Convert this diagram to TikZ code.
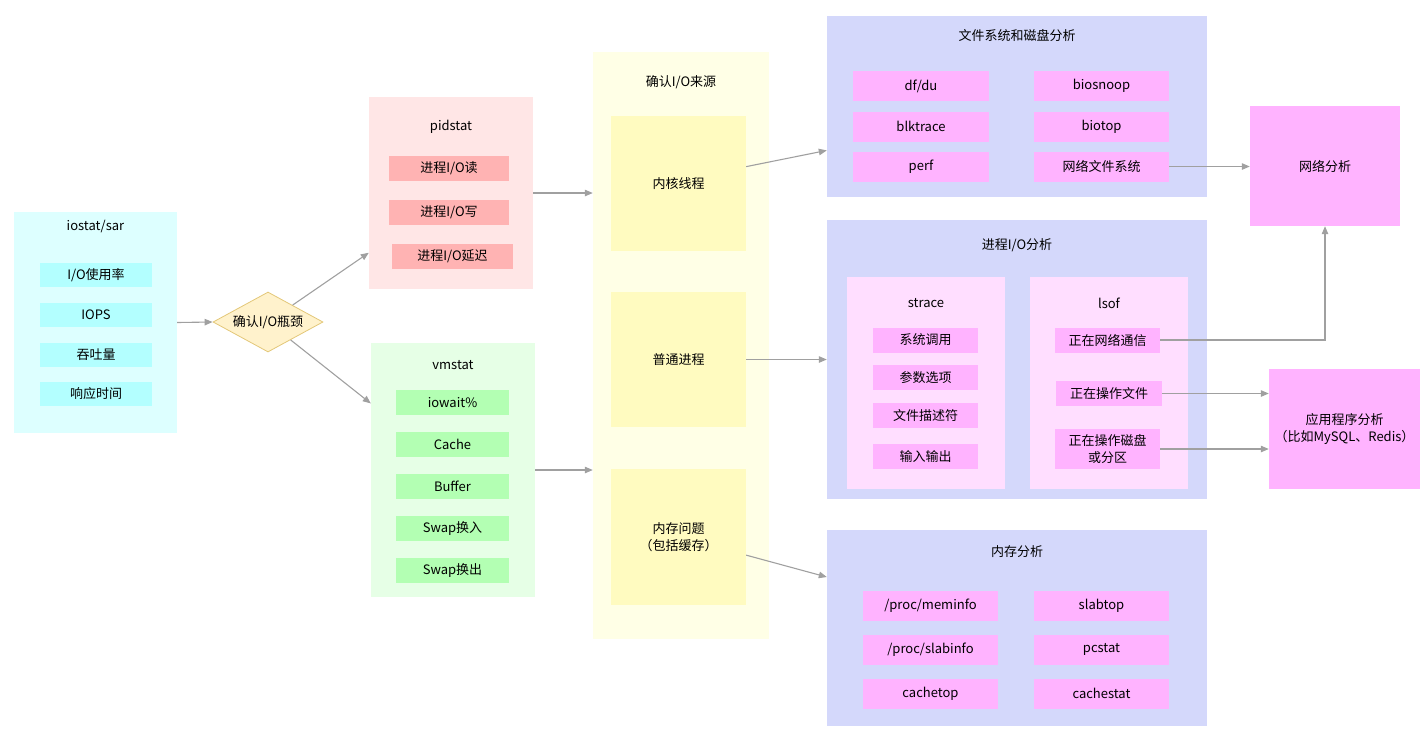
\documentclass[tikz,border=0pt]{standalone}
\usepackage{fontspec}
\setmainfont{Noto Sans CJK SC}
\usetikzlibrary{shapes.geometric,arrows.meta}
\definecolor{iobg}{HTML}{DDFFFF}
\definecolor{iofill}{HTML}{B3FFFF}
\definecolor{pidbg}{HTML}{FFE6E6}
\definecolor{pidfill}{HTML}{FFB3B3}
\definecolor{vmbg}{HTML}{E6FFE6}
\definecolor{vmfill}{HTML}{B3FFB3}
\definecolor{srcbg}{HTML}{FFFFE6}
\definecolor{srcfill}{HTML}{FFFBC0}
\definecolor{diafill}{HTML}{FFF2CC}
\definecolor{diaedge}{HTML}{E3C778}
\definecolor{anabg}{HTML}{D4D8FB}
\definecolor{subbg}{HTML}{FFDEFF}
\definecolor{toolfill}{HTML}{FFB3FF}
\definecolor{arrgray}{HTML}{A0A0A0}
\tikzset{
  box/.style={rectangle,inner sep=0pt,align=center},
  ioitem/.style={box,fill=iofill,minimum width=112,minimum height=24},
  piditem/.style={box,fill=pidfill,minimum width=120,minimum height=25},
  vmitem/.style={box,fill=vmfill,minimum width=113,minimum height=25},
  srcitem/.style={box,fill=srcfill,minimum width=135,minimum height=135},
  tool/.style={box,fill=toolfill,minimum width=135,minimum height=30},
  sttool/.style={box,fill=toolfill,minimum width=105,minimum height=25},
  arr/.style={draw=arrgray,line width=1.1pt,-{Triangle[length=8pt,width=6.5pt]}}
}
\begin{document}
\begin{tikzpicture}[x=1pt,y=-1pt,every node/.style={font=\fontsize{13}{17}\selectfont}]
\useasboundingbox (0,0) rectangle (1428,748);

\node[box,fill=iobg,minimum width=163,minimum height=221] (io) at (95.5,322.5) {};
\node (iot) at (95.5,226) {iostat/sar};
\node[ioitem] (io1) at (96,275) {I/O使用率};
\node[ioitem] (io2) at (96,315) {IOPS};
\node[ioitem] (io3) at (96,355) {吞吐量};
\node[ioitem] (io4) at (96,394) {响应时间};

\node[diamond,draw=diaedge,line width=0.8pt,fill=diafill,aspect=1.83,inner sep=0pt,minimum width=110,minimum height=60] (dia) at (268,322) {确认I/O瓶颈};

\node[box,fill=pidbg,minimum width=164,minimum height=192] (pid) at (451,193) {};
\node (pidt) at (451,127) {pidstat};
\node[piditem] (pid1) at (449,168.5) {进程I/O读};
\node[piditem] (pid2) at (449,212.5) {进程I/O写};
\node[piditem,minimum width=121] (pid3) at (452.5,256.5) {进程I/O延迟};

\node[box,fill=vmbg,minimum width=164,minimum height=254] (vm) at (453,470) {};
\node (vmt) at (453,365) {vmstat};
\node[vmitem] (vm1) at (452.5,402.5) {iowait\%};
\node[vmitem] (vm2) at (452.5,444.5) {Cache};
\node[vmitem] (vm3) at (452.5,486.5) {Buffer};
\node[vmitem] (vm4) at (452.5,528.5) {Swap换入};
\node[vmitem] (vm5) at (452.5,570.5) {Swap换出};

\node[box,fill=srcbg,minimum width=176,minimum height=587] (src) at (681,345.5) {};
\node (srct) at (681,82) {确认I/O来源};
\node[srcitem] (src1) at (678.5,183.5) {内核线程};
\node[srcitem] (src2) at (678.5,359.5) {普通进程};
\node[srcitem,minimum height=136] (src3) at (678.5,537) {内存问题\\（包括缓存）};

\node[box,fill=anabg,minimum width=380,minimum height=181] (fs) at (1017,106.5) {};
\node (fst) at (1017,36) {文件系统和磁盘分析};
\node[tool,minimum width=136] (fs1) at (921,86) {df/du};
\node[tool,minimum width=136] (fs2) at (921,126.5) {blktrace};
\node[tool,minimum width=136] (fs3) at (921,166.5) {perf};
\node[tool] (fs4) at (1101.5,86) {biosnoop};
\node[tool] (fs5) at (1101.5,126.5) {biotop};
\node[tool] (fs6) at (1101.5,166.5) {网络文件系统};

\node[box,fill=anabg,minimum width=380,minimum height=279] (pio) at (1017,359.5) {};
\node (piot) at (1017,245) {进程I/O分析};
\node[box,fill=subbg,minimum width=158,minimum height=212] (st) at (926,383) {};
\node (stt) at (926,303) {strace};
\node[sttool] (st1) at (925.5,340) {系统调用};
\node[sttool] (st2) at (925.5,377.5) {参数选项};
\node[sttool] (st3) at (925.5,415.5) {文件描述符};
\node[sttool] (st4) at (925.5,456.5) {输入输出};
\node[box,fill=subbg,minimum width=158,minimum height=212] (ls) at (1109,383) {};
\node (lst) at (1109,303) {lsof};
\node[sttool] (ls1) at (1107.5,340) {正在网络通信};
\node[sttool,minimum width=106] (ls2) at (1109,393.5) {正在操作文件};
\node[sttool,minimum height=40] (ls3) at (1107.5,449) {正在操作磁盘\\或分区};

\node[box,fill=anabg,minimum width=380,minimum height=196] (mem) at (1017,628) {};
\node (memt) at (1017,552) {内存分析};
\node[tool] (mem1) at (930.5,606) {/proc/meminfo};
\node[tool] (mem2) at (930.5,649.5) {/proc/slabinfo};
\node[tool] (mem3) at (930.5,693.5) {cachetop};
\node[tool] (mem4) at (1101.5,606) {slabtop};
\node[tool] (mem5) at (1101.5,649.5) {pcstat};
\node[tool] (mem6) at (1101.5,693.5) {cachestat};

\node[box,fill=toolfill,minimum width=150,minimum height=120] (net) at (1325,166) {网络分析};
\node[box,fill=toolfill,minimum width=151,minimum height=120] (app) at (1344.5,429) {应用程序分析\\（比如MySQL、Redis）};

\draw[arr] (io.east) -- (dia.west);
\draw[arr] (dia) -- (pid.216);
\draw[arr] (dia) -- (vm.141);
\draw[arr] (pid.east) -- (pid.east -| src.west);
\draw[arr] (vm.east) -- (vm.east -| src.west);
\draw[arr] (src1.14) -- (fs.193);
\draw[arr] (src2.east) -- (pio.west);
\draw[arr] (src3.-15) -- (mem.165);
\draw[arr] (fs6.east) -- (fs6.east -| net.west);
\draw[arr] (ls1.east) -| (net.south);
\draw[arr] (ls2.east) -- (ls2.east -| app.west);
\draw[arr] (ls3.east) -- (ls3.east -| app.west);
\end{tikzpicture}
\end{document}
